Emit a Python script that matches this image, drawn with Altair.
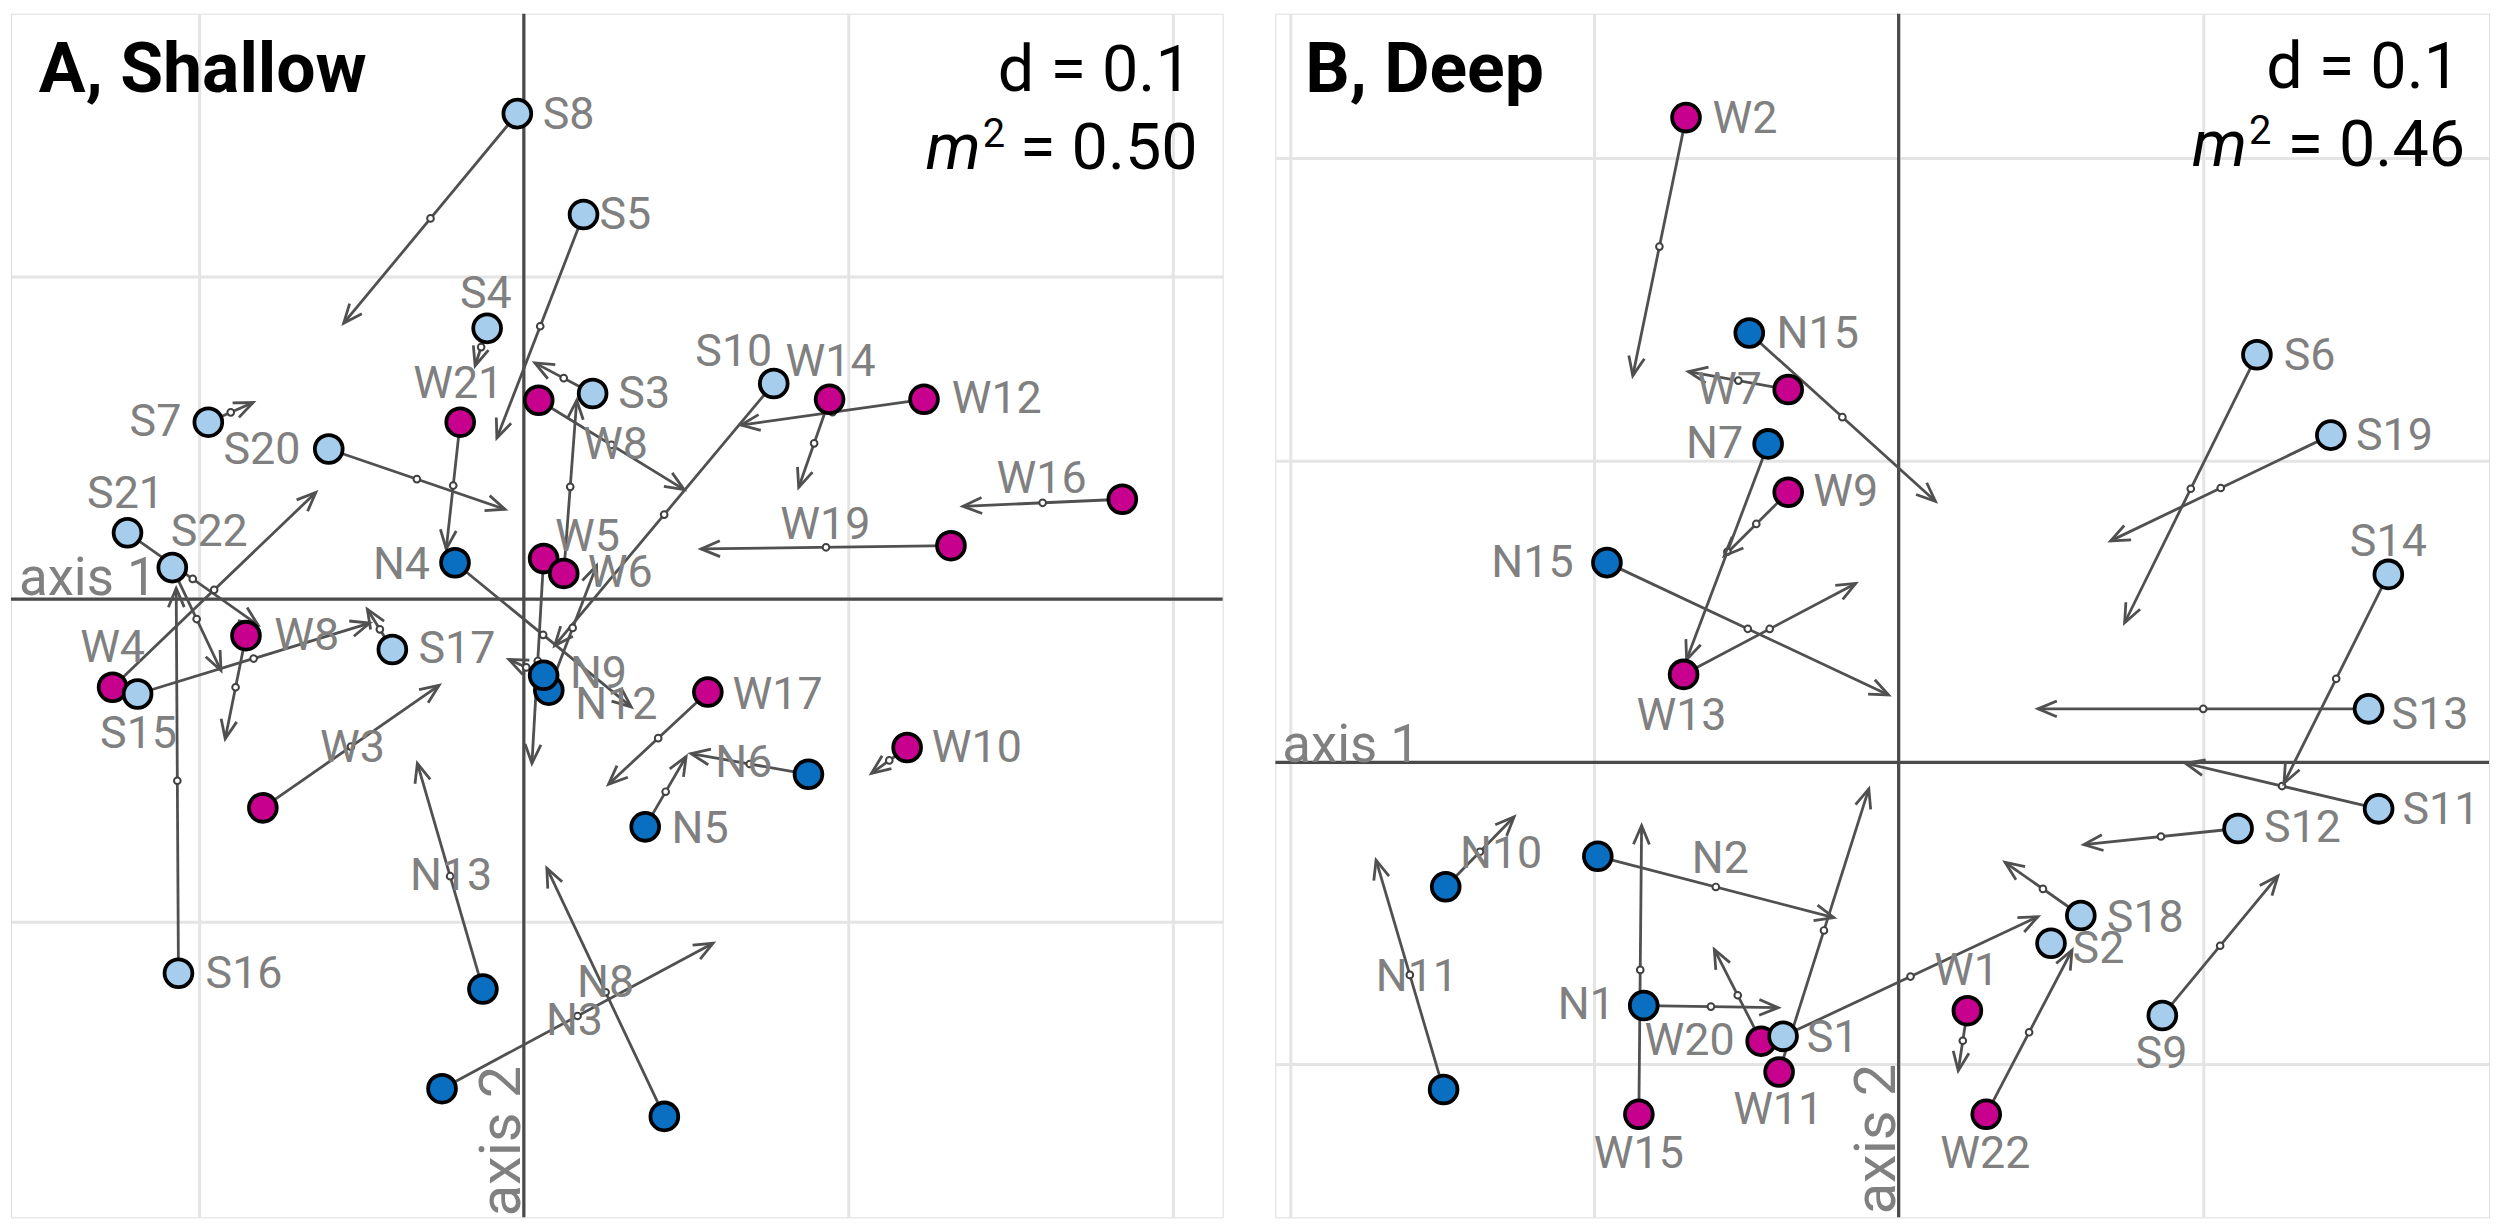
import altair as alt
import pandas as pd

# ---------------- Panel A, Shallow ----------------
A_label = ["S8", "S5", "S4", "S3", "S10", "S7", "S20", "S21", "S22", "W4", "S15", "S17", "S16",
           "W21", "W8", "W14", "W12", "W16", "W19", "W5", "W6", "W8", "W3", "W17", "W10",
           "N4", "N12", "N9", "N6", "N5", "N13", "N8", "N3"]
A_x = [-0.0020, 0.0184, -0.0113, 0.0212, 0.0770, -0.0972, -0.0601, -0.1221, -0.1083, -0.1267, -0.1190, -0.0405, -0.1064,
       -0.0196, 0.0046, 0.0942, 0.1233, 0.1844, 0.1316, 0.0061, 0.0123, -0.0856, -0.0804, 0.0567, 0.1181,
       -0.0212, 0.0077, 0.0061, 0.0877, 0.0374, -0.0126, 0.0433, -0.0252]
A_y = [0.1506, 0.1193, 0.0840, 0.0638, 0.0669, 0.0549, 0.0466, 0.0206, 0.0098, -0.0273, -0.0294, -0.0156, -0.1160,
       0.0549, 0.0617, 0.0620, 0.0620, 0.0310, 0.0166, 0.0126, 0.0080, -0.0113, -0.0647, -0.0288, -0.0460,
       0.0113, -0.0282, -0.0236, -0.0543, -0.0706, -0.1209, -0.1604, -0.1518]
A_xend = [-0.0555, -0.0083, -0.0150, 0.0034, 0.0095, -0.0834, -0.0058, -0.0819, -0.0933, -0.0641, -0.0475, -0.0482, -0.1071,
          -0.0239, 0.0494, 0.0847, 0.0669, 0.1353, 0.0546, 0.0025, 0.0163, -0.0920, -0.0261, 0.0261, 0.1071,
          0.0331, 0.0224, -0.0046, 0.0515, 0.0500, -0.0328, 0.0071, 0.0583]
A_yend = [0.0856, 0.0500, 0.0724, 0.0733, -0.0144, 0.0610, 0.0279, -0.0080, -0.0221, 0.0331, -0.0074, -0.0031, 0.0034,
          0.0156, 0.0340, 0.0347, 0.0540, 0.0288, 0.0156, -0.0509, 0.0617, -0.0433, -0.0267, -0.0574, -0.0540,
          -0.0334, 0.0104, -0.0187, -0.0479, -0.0488, -0.0509, -0.0834, -0.1067]
A_lx = [0.0138, 0.0313, -0.0117, 0.0371, 0.0647, -0.1135, -0.0807, -0.1227, -0.0969, -0.1267, -0.1187, -0.0206, -0.0862,
        -0.0202, 0.0282, 0.0945, 0.1457, 0.1595, 0.0929, 0.0196, 0.0297, -0.0669, -0.0528, 0.0782, 0.1396,
        -0.0377, 0.0285, 0.0230, 0.0678, 0.0543, -0.0224, 0.0252, 0.0156]
A_ly = [0.1503, 0.1190, 0.0945, 0.0635, 0.0767, 0.0549, 0.0463, 0.0325, 0.0209, -0.0150, -0.0417, -0.0156, -0.1163,
        0.0666, 0.0479, 0.0736, 0.0620, 0.0374, 0.0230, 0.0193, 0.0080, -0.0113, -0.0463, -0.0298, -0.0463,
        0.0107, -0.0328, -0.0233, -0.0509, -0.0712, -0.0859, -0.1190, -0.1307]

# ---------------- Panel B, Deep ----------------
B_label = ["W2", "N15", "W7", "N7", "W9", "N15", "W13", "S6", "S19", "S14", "S13", "S11", "S12",
           "S18", "S2", "W20", "W11", "S1", "N2", "N1", "W15", "W1", "W22", "S9", "N10", "N11"]
B_x = [-0.0699, -0.0491, -0.0363, -0.0429, -0.0363, -0.0959, -0.0707, 0.1178, 0.1421, 0.1610, 0.1545, 0.1578, 0.1116,
       0.0599, 0.0501, -0.0452, -0.0393, -0.0380, -0.0989, -0.0838, -0.0854, 0.0226, 0.0288, 0.0867, -0.1489, -0.1496]
B_y = [0.2134, 0.1421, 0.1234, 0.1054, 0.0894, 0.0661, 0.0291, 0.1349, 0.1083, 0.0622, 0.0177, -0.0154, -0.0219,
       -0.0507, -0.0599, -0.0923, -0.1025, -0.0907, -0.0311, -0.0805, -0.1165, -0.0822, -0.1165, -0.0838, -0.0412, -0.1083]
B_xend = [-0.0874, 0.0121, -0.0691, -0.0697, -0.0573, -0.0033, -0.0141, 0.0743, 0.0697, 0.1267, 0.0458, 0.0943, 0.0609,
          0.0350, None, -0.0606, -0.0098, 0.0458, -0.0213, -0.0396, -0.0845, 0.0196, 0.0570, 0.1247, -0.1264, -0.1718]
B_yend = [0.1280, 0.0864, 0.1293, 0.0340, 0.0684, 0.0223, 0.0592, 0.0462, 0.0733, -0.0069, 0.0177, -0.0003, -0.0272,
          -0.0331, None, -0.0619, -0.0088, -0.0511, -0.0514, -0.0812, -0.0209, -0.1021, -0.0622, -0.0376, -0.0180, -0.0324]
B_lx = [-0.0505, -0.0266, -0.0556, -0.0605, -0.0174, -0.1204, -0.0714, 0.1351, 0.1630, 0.1610, 0.1747, 0.1783, 0.1328,
        0.0811, 0.0657, -0.0687, -0.0396, -0.0217, -0.0586, -0.1027, -0.0854, 0.0223, 0.0285, 0.0864, -0.1307, -0.1584]
B_ly = [0.2128, 0.1417, 0.1231, 0.1054, 0.0894, 0.0658, 0.0154, 0.1345, 0.1080, 0.0730, 0.0157, -0.0157, -0.0219,
        -0.0514, -0.0619, -0.0923, -0.1152, -0.0913, -0.0321, -0.0805, -0.1296, -0.0691, -0.1296, -0.0966, -0.0304, -0.0710]

GROUPS = ["S", "N", "W"]
GROUP_COLORS = ["#a6cdec", "#0a6fc0", "#c8008e"]

ARROW = "M -0.42 1 L 0 0 L 0.42 1"
LINE_COL = "#505050"
LABEL_COL = "#808080"
FONT = "Roboto"


def panel(df, xdom, ydom, xvals, yvals, w, h, title, m_value, ann):
    xs = alt.Scale(domain=xdom, nice=False, zero=False)
    ys = alt.Scale(domain=ydom, nice=False, zero=False)
    ax = alt.Axis(values=xvals, grid=True, labels=False, ticks=False, domain=False,
                  title=None, gridColor="#e4e4e4", gridWidth=3)
    ay = alt.Axis(values=yvals, grid=True, labels=False, ticks=False, domain=False,
                  title=None, gridColor="#e4e4e4", gridWidth=3)

    def X(f):
        return alt.X(f"{f}:Q", scale=xs, axis=ax)

    def Y(f):
        return alt.Y(f"{f}:Q", scale=ys, axis=ay)

    kx = w / (xdom[1] - xdom[0])
    ky = h / (ydom[1] - ydom[0])

    base = alt.Chart(df)
    zero = alt.Chart(pd.DataFrame({"z": [0.0]}))

    vline = zero.mark_rule(color="#4a4a4a", strokeWidth=3.2).encode(x=X("z"))
    hline = zero.mark_rule(color="#4a4a4a", strokeWidth=3.2).encode(y=Y("z"))

    arrows = base.transform_filter("isValid(datum.xend)")
    lines = arrows.mark_rule(color=LINE_COL, strokeWidth=2.8).encode(
        x=X("x"), y=Y("y"), x2="xend:Q", y2="yend:Q")
    mids = arrows.transform_calculate(
        mx="(datum.x + datum.xend) / 2", my="(datum.y + datum.yend) / 2"
    ).mark_point(shape="circle", size=45, fill="white", fillOpacity=1, stroke="#404040",
                 strokeWidth=2, opacity=1).encode(x=X("mx"), y=Y("my"))
    heads = arrows.transform_calculate(
        ang=f"(atan2((datum.xend - datum.x) * {kx}, (datum.yend - datum.y) * {ky}) * 180 / PI + 360) % 360"
    ).mark_point(shape=ARROW, size=1444, filled=False, stroke=LINE_COL, strokeWidth=2.8,
                 opacity=1).encode(x=X("xend"), y=Y("yend"), angle=alt.Angle("ang:Q", scale=None))

    pts = base.transform_calculate(grp="substring(datum.label, 0, 1)").mark_circle(
        size=780, stroke="black", strokeWidth=3.8, opacity=1
    ).encode(x=X("x"), y=Y("y"),
             fill=alt.Fill("grp:N", scale=alt.Scale(domain=GROUPS, range=GROUP_COLORS), legend=None))

    labels = base.mark_text(font=FONT, fontSize=45, color=LABEL_COL, align="center",
                            baseline="middle").encode(x=X("lx"), y=Y("ly"), text="label:N")

    one = alt.Chart(pd.DataFrame({"a": [1]}))

    def txt(s, x, y, **kw):
        return one.mark_text(text=s, font=FONT, **kw).encode(x=alt.value(x), y=alt.value(y))

    t_title = txt(title, ann["tx"], ann["ty"], fontSize=70, fontWeight="bold", color="black",
                  align="left", baseline="alphabetic")
    t_d = txt("d = 0.1", ann["dx"], ann["dy"], fontSize=65, color="black", align="right",
              baseline="alphabetic")
    t_eq = txt("= " + m_value, ann["ex"], ann["ey"], fontSize=65, color="black", align="right",
               baseline="alphabetic")
    t_m = txt("m", ann["mx"], ann["ey"], fontSize=65, fontStyle="italic", color="black",
              align="right", baseline="alphabetic")
    t_sup = txt("2", ann["sx"], ann["sy"], fontSize=40, color="black", align="left",
                baseline="alphabetic")
    t_ax1 = txt("axis 1", ann["a1x"], ann["a1y"], fontSize=53, color=LABEL_COL, align="left",
                baseline="alphabetic")
    t_ax2 = txt("axis 2", ann["a2x"], ann["a2y"], fontSize=58, color=LABEL_COL, align="left",
                baseline="alphabetic", angle=270)

    return alt.layer(vline, hline, lines, mids, heads, pts, labels,
                     t_title, t_d, t_eq, t_m, t_sup, t_ax1, t_ax2).properties(width=w, height=h)


dfA = pd.DataFrame({"label": A_label, "x": A_x, "y": A_y, "xend": A_xend, "yend": A_yend,
                    "lx": A_lx, "ly": A_ly})
dfB = pd.DataFrame({"label": B_label, "x": B_x, "y": B_y, "xend": B_xend, "yend": B_yend,
                    "lx": B_lx, "ly": B_ly})

annA = dict(tx=28, ty=79, dx=1186, dy=78, ex=1192, ey=156, mx=974, sx=976, sy=134,
            a1x=8, a1y=584, a2x=511, a2y=1208)
annB = dict(tx=30, ty=79, dx=1190, dy=75, ex=1195, ey=153, mx=976, sx=978, sy=131,
            a1x=7, a1y=752, a2x=622, a2y=1206)

pA = panel(dfA, [-0.158, 0.2153], [-0.1917, 0.1816], [-0.1, 0.0, 0.1, 0.2], [-0.1, 0.0, 0.1],
           1217, 1209, "A, Shallow", "0.50", annA)
pB = panel(dfB, [-0.2049, 0.1941], [-0.1506, 0.2478], [-0.2, -0.1, 0.0, 0.1], [-0.1, 0.0, 0.1, 0.2],
           1219, 1209, "B, Deep", "0.46", annB)

chart = alt.hconcat(pA, pB, spacing=47, padding=0).configure_view(
    stroke="#3a3a3a", strokeWidth=3.5
).configure(background="white")

chart.save("out.html", embed_options={"renderer": "svg", "actions": False})
